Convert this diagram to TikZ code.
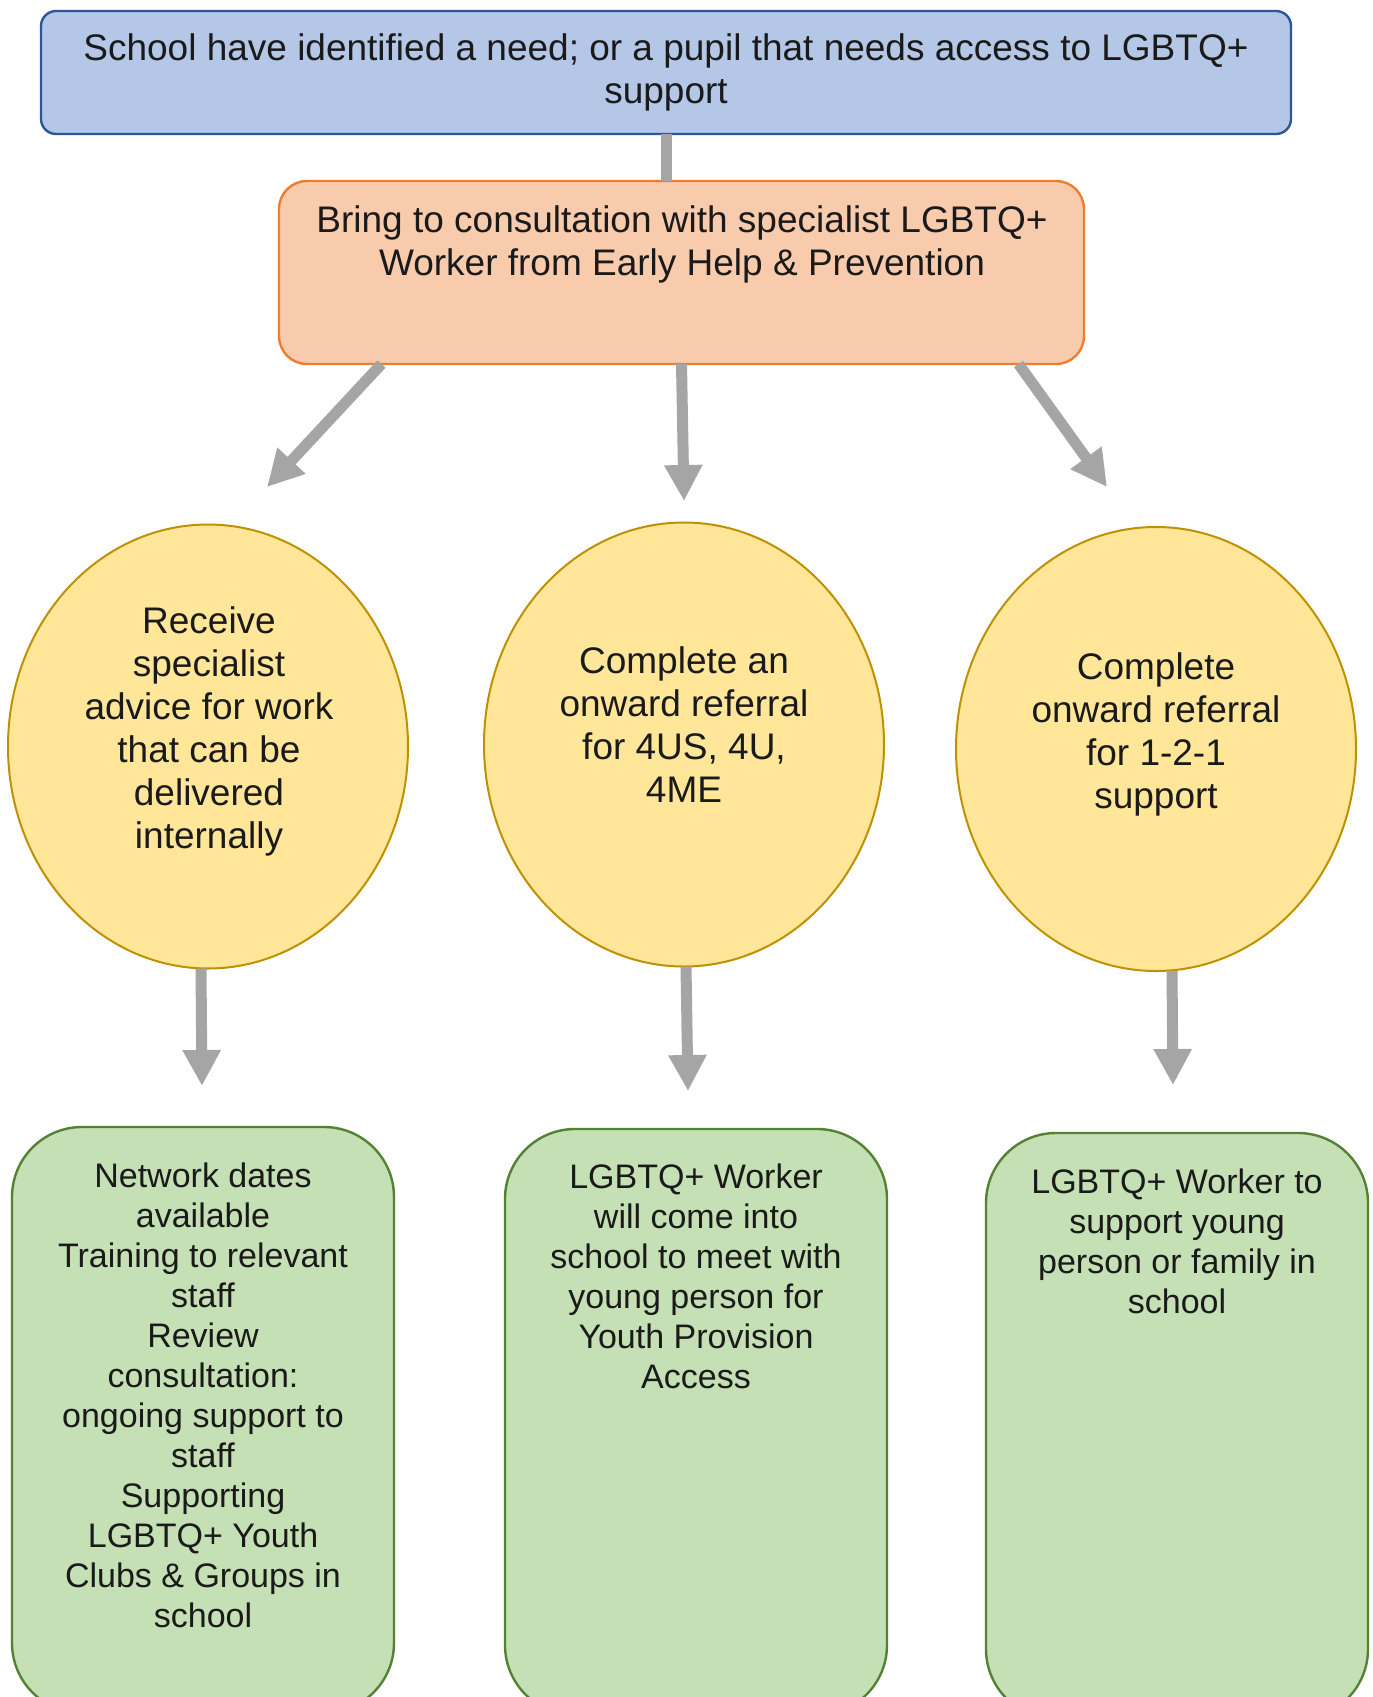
\documentclass[tikz,border=0pt]{standalone}
\usepackage{fontspec}
\setmainfont{Liberation Sans}
\usetikzlibrary{arrows.meta,shapes.geometric}
\definecolor{bluefill}{HTML}{B4C7E7}
\definecolor{blueline}{HTML}{2F5597}
\definecolor{orfill}{HTML}{F8CBAD}
\definecolor{orline}{HTML}{ED7D31}
\definecolor{yfill}{HTML}{FFE699}
\definecolor{yline}{HTML}{BF9000}
\definecolor{gfill}{HTML}{C5E0B4}
\definecolor{gline}{HTML}{548235}
\definecolor{arrowgray}{HTML}{A5A5A5}
\definecolor{txt}{HTML}{1A1A1A}
\begin{document}
\begin{tikzpicture}[x=1pt,y=-1pt,
  shapebox/.style={draw, line width=2.4pt, inner sep=0pt, outer sep=0pt},
  bigtxt/.style={text=txt, align=center, inner sep=0pt, font=\fontsize{37}{43}\selectfont},
  smalltxt/.style={text=txt, align=center, inner sep=0pt, font=\fontsize{34}{40}\selectfont},
  oval/.style={ellipse, draw=yline, fill=yfill, line width=2pt, inner sep=0pt, outer sep=0pt, minimum width=400pt, minimum height=444pt},
  greenbox/.style={shapebox, draw=gline, fill=gfill, rounded corners=70pt, minimum width=382pt, minimum height=586pt, anchor=north},
  conn/.style={draw=arrowgray, line width=11pt},
  arr/.style={conn, -{Triangle[length=36pt,width=36pt]}}
]
\useasboundingbox (0,0) rectangle (1373,1697);
\clip (0,0) rectangle (1373,1697);

% top box
\node[shapebox, draw=blueline, fill=bluefill, rounded corners=15pt, minimum width=1250pt, minimum height=123pt, anchor=north west] (t) at (41,11) {};
\node[bigtxt] (tt) at (666,72) {School have identified a need; or a pupil that needs access to LGBTQ+\\support};

% orange box
\node[shapebox, draw=orline, fill=orfill, rounded corners=28pt, minimum width=805pt, minimum height=183pt, anchor=north west] (o) at (279,181) {};
\node[bigtxt] (ot) at (682,244) {Bring to consultation with specialist LGBTQ+\\Worker from Early Help \& Prevention};

% ellipses
\node[oval] (e1) at (208,746.5) {};
\node[bigtxt] (e1t) at (209,731) {Receive\\specialist\\advice for work\\that can be\\delivered\\internally};
\node[oval] (e2) at (684,744.5) {};
\node[bigtxt] (e2t) at (684,725) {Complete an\\onward referral\\for 4US, 4U,\\4ME};
\node[oval] (e3) at (1156,749) {};
\node[bigtxt] (e3t) at (1156,734) {Complete\\onward referral\\for 1-2-1\\support};

% green boxes
\node[greenbox] (g1) at (203,1127) {};
\node[smalltxt, anchor=north] (g1t) at (203,1163) {Network dates\\available\\Training to relevant\\staff\\Review\\consultation:\\ongoing support to\\staff\\Supporting\\LGBTQ+ Youth\\Clubs \& Groups in\\school};
\node[greenbox] (g2) at (696,1129) {};
\node[smalltxt, anchor=north] (g2t) at (696,1164) {LGBTQ+ Worker\\will come into\\school to meet with\\young person for\\Youth Provision\\Access};
\node[greenbox] (g3) at (1177,1133) {};
\node[smalltxt, anchor=north] (g3t) at (1177,1169) {LGBTQ+ Worker to\\support young\\person or family in\\school};

% arrow tips (free ends)
\coordinate (a1) at (267,487);
\coordinate (a2) at (684,501);
\coordinate (a3) at (1107,487);
\coordinate (b1) at (202,1086);
\coordinate (b2) at (688,1091);
\coordinate (b3) at (1173,1085);

% connectors
\draw[conn] (t.south) -- (t.south |- o.north);
\draw[arr] ([xshift=-300pt]o.south) -- (a1);
\draw[arr] (o.south) -- (a2);
\draw[arr] ([xshift=337pt]o.south) -- (a3);
\draw[arr] ([xshift=-7pt]e1.south) -- (b1);
\draw[arr] ([xshift=2pt]e2.south) -- (b2);
\draw[arr] ([xshift=16pt]e3.south) -- (b3);
\end{tikzpicture}
\end{document}
